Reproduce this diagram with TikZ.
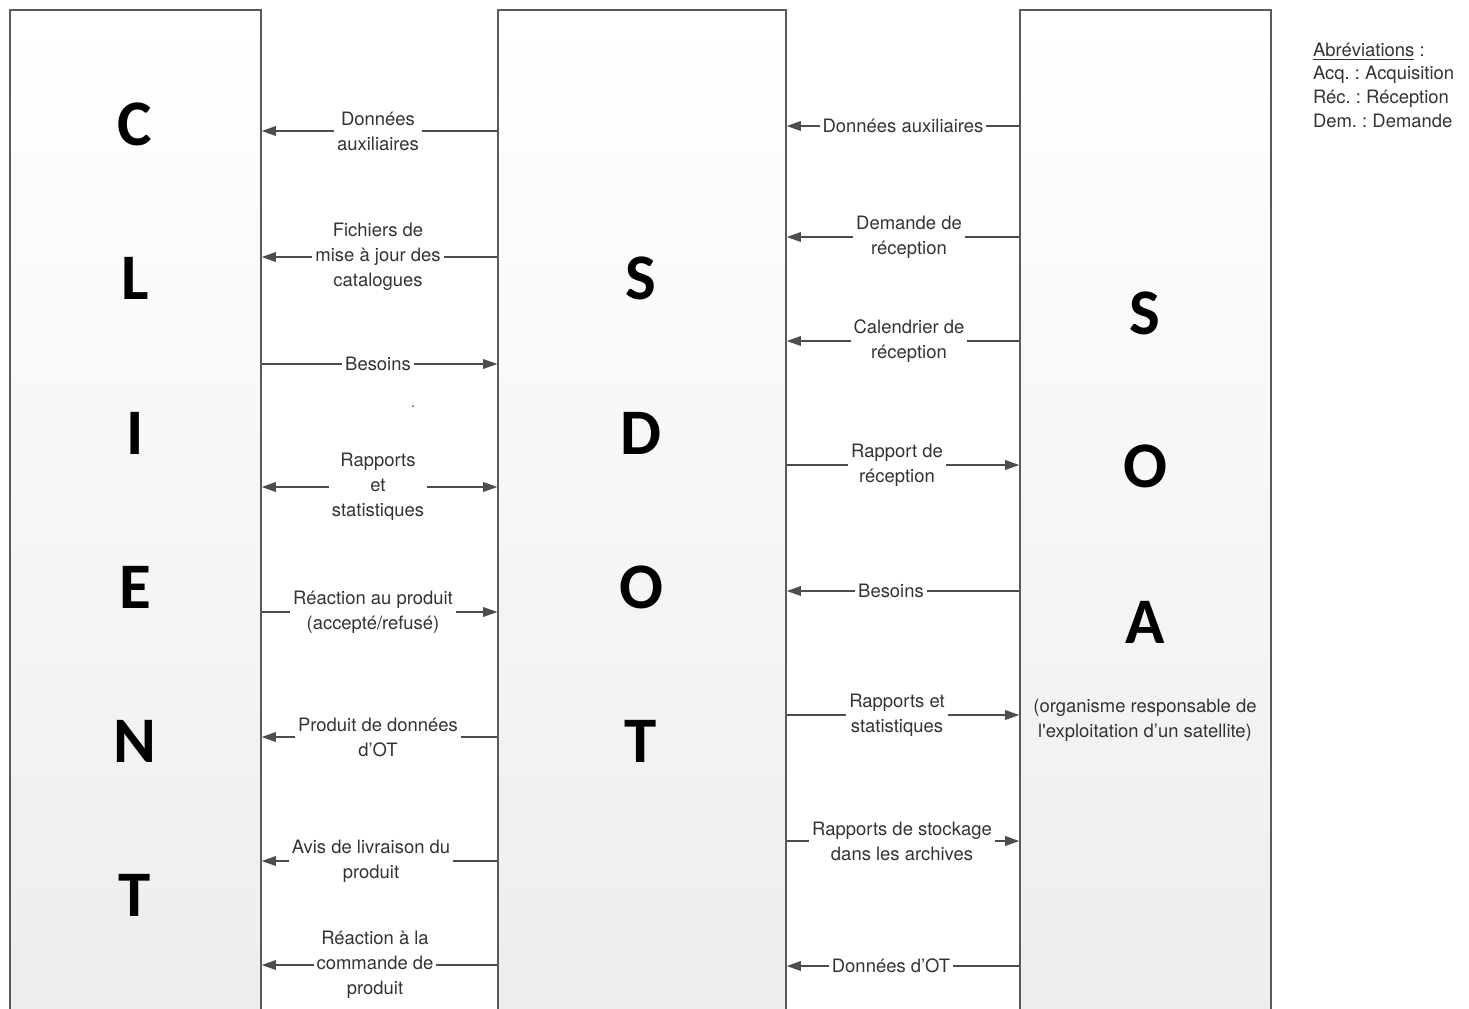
\documentclass[tikz,border=0pt]{standalone}
\usepackage{fontspec}
\setmainfont{TeX Gyre Heros}
\newfontfamily\lblfont{TeX Gyre Heros}
\newfontfamily\bigfont{Carlito}[UprightFont=* Bold]
\usetikzlibrary{arrows.meta}
\frenchspacing
\definecolor{txtgray}{HTML}{333333}
\definecolor{linegray}{HTML}{4D4D4D}
\definecolor{boxgray}{HTML}{5A5A5A}
\definecolor{shadegray}{HTML}{EDEDED}
\tikzset{
  lane/.style={draw=boxgray, line width=0.9pt, top color=white, bottom color=shadegray,
    minimum height=20.4cm, inner sep=0pt},
  letter/.style={font=\bigfont\fontsize{37}{42}\selectfont},
  lbl/.style={align=center, inner sep=1.5pt, text=txtgray, font=\lblfont\fontsize{10.5}{14.2}\selectfont},
  wire/.style={draw=linegray, line width=0.75pt},
  arr/.style={wire, -{Triangle[length=8pt,width=5.5pt]}},
}

\begin{document}
\begin{tikzpicture}[x=0.02cm, y=-0.02cm]
        \useasboundingbox (0,0) rectangle (1469,1008);
        % the three actors
        \node[lane, minimum width=5.02cm] (client) at (135.5,520) {};
        \node[lane, minimum width=5.76cm] (sdot) at (642,520) {};
        \node[lane, minimum width=5.02cm] (soa) at (1145.5,520) {};
        \foreach \l/\y [count=\i] in {C/124,L/278,I/433,E/587,N/741,T/895}
            \node[letter] (cl\i) at (135,\y) {\l};
        \foreach \l/\y [count=\i] in {S/278,D/433,O/587,T/741}
            \node[letter] (sl\i) at (641,\y) {\l};
        \foreach \l/\y [count=\i] in {S/313,O/466,A/622}
            \node[letter] (al\i) at (1145,\y) {\l};
        \node[lbl] (soasub) at (1145,720) {(organisme responsable de\\l\textquotesingle exploitation d’un satellite)};

        % SDOT -> client
        \foreach \nm/\x/\y/\t in {la1/378/131/{Données\\auxiliaires},
                la2/378/257/{Fichiers de\\mise à jour des\\catalogues},
                la6/378/737/{Produit de données\\d’OT},
                la7/371/861/{Avis de livraison du\\produit},
                la8/375/965/{Réaction à la\\commande de\\produit}} {
            \node[lbl] (\nm) at (\x,\y) {\t};
            \draw[wire] (sdot.west |- \nm) -- (\nm);
            \draw[arr] (\nm) -- (client.east |- \nm);
        }
        % client -> SDOT
        \foreach \nm/\x/\y/\t in {la3/378/364/{Besoins},
                la5/373/612/{Réaction au produit\\(accepté/refusé)}} {
            \node[lbl] (\nm) at (\x,\y) {\t};
            \draw[wire] (client.east |- \nm) -- (\nm);
            \draw[arr] (\nm) -- (sdot.west |- \nm);
        }
        \node[lbl] (la4) at (378,487) {Rapports\\et\\statistiques};
        \draw[arr] (la4) -- (client.east |- la4);
        \draw[arr] (la4) -- (sdot.west |- la4);
        \fill[linegray] (413,406) circle (1);

        % SOA -> SDOT
        \foreach \nm/\x/\y/\t in {ra1/903/126/{Données auxiliaires},
                ra2/909/237/{Demande de\\réception},
                ra3/909/341/{Calendrier de\\réception},
                ra5/891/591/{Besoins},
                ra8/891/966/{Données d’OT}} {
            \node[lbl] (\nm) at (\x,\y) {\t};
            \draw[wire] (soa.west |- \nm) -- (\nm);
            \draw[arr] (\nm) -- (sdot.east |- \nm);
        }
        % SDOT -> SOA
        \foreach \nm/\x/\y/\t in {ra4/897/465/{Rapport de\\réception},
                ra6/897/715/{Rapports et\\statistiques},
                ra7/902/841/{Rapports de stockage\\dans les archives}} {
            \node[lbl] (\nm) at (\x,\y) {\t};
            \draw[wire] (sdot.east |- \nm) -- (\nm);
            \draw[arr] (\nm) -- (soa.west |- \nm);
        }

        % abbreviations
        \node[lbl, align=left, anchor=north west, font=\lblfont\fontsize{10.5}{13.4}\selectfont] (abbr) at (1310,40)
            {\underline{Abréviations} :\\Acq. : Acquisition\\Réc. : Réception\\Dem. : Demande};
    \end{tikzpicture}
\end{document}
